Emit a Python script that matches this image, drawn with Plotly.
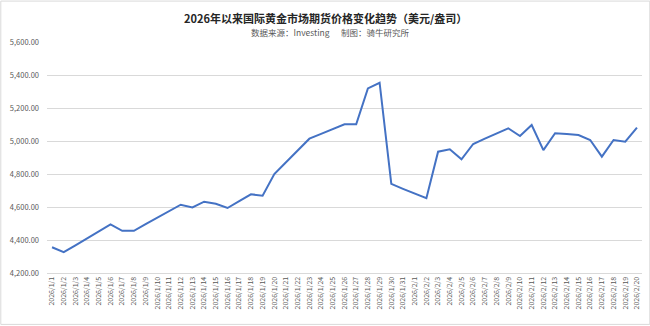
import plotly.graph_objects as go

dates = [f"2026/1/{d}" for d in range(1, 32)] + [f"2026/2/{d}" for d in range(1, 21)]

prices = [
    4356, 4326, 4368, 4410, 4452, 4495, 4456, 4456, 4496, 4535,
    4575, 4614, 4597, 4632, 4620, 4594, 4636, 4677, 4669, 4800,
    4871, 4943, 5014, 5043, 5072, 5101, 5101, 5319, 5353, 4740,
    4710, 4681, 4653, 4935, 4950, 4889, 4982, 5014, 5046, 5077,
    5030, 5097, 4945, 5047, 5043, 5036, 5006, 4905, 5006, 4996,
    5081,
]

y_ticks = [4200, 4400, 4600, 4800, 5000, 5200, 5400, 5600]
y_labels = [f"{v:,.2f}" for v in y_ticks]

title_text = "2026年以来国际黄金市场期货价格变化趋势（美元/盎司）"
subtitle_text = "数据来源：Investing" + "\u00a0" * 6 + "制图：骑牛研究所"

FONT = "Noto Sans CJK SC, Noto Sans, sans-serif"

fig = go.Figure()
fig.add_trace(go.Scatter(
    x=dates, y=prices, mode="lines",
    line=dict(color="#4472C4", width=2),
    hoverinfo="x+y",
))

L, R, T, B = 46.7, 8.3, 41.5, 53
W, H = 650, 326
pw, ph = W - L - R, H - T - B

fig.update_layout(
    width=W, height=H,
    margin=dict(l=L, r=R, t=T, b=B, pad=0),
    paper_bgcolor="white", plot_bgcolor="white",
    showlegend=False,
    font=dict(family=FONT, color="#595959"),
    xaxis=dict(
        type="category", range=[-0.43, 50.43],
        tickangle=-90, tickfont=dict(size=7, color="#595959"),
        showgrid=False, showline=True, linecolor="#d9d9d9", linewidth=1,
        ticks="", ticklen=0, automargin=False,
    ),
    yaxis=dict(
        range=[4200, 5600], tickvals=y_ticks, ticktext=y_labels,
        tickfont=dict(size=7.5, color="#595959"),
        showgrid=True, gridcolor="#d9d9d9", gridwidth=1,
        zeroline=False, showline=False, ticks="", ticklabelstandoff=7,
        automargin=False,
    ),
    annotations=[
        dict(text=f"<b>{title_text}</b>", xref="paper", yref="paper",
             x=(325 - L) / pw, y=(H - B - 17.5) / ph, xanchor="center", yanchor="middle",
             showarrow=False, font=dict(size=11, color="#262626", family=FONT)),
        dict(text=subtitle_text, xref="paper", yref="paper",
             x=(330 - L) / pw, y=(H - B - 31) / ph, xanchor="center", yanchor="middle",
             showarrow=False, font=dict(size=8.5, color="#595959", family=FONT)),
    ],
    shapes=[
        dict(type="rect", xref="paper", yref="paper",
             x0=(0.5 - L) / pw, x1=(W - 0.5 - L) / pw,
             y0=(H - B - (H - 1.5)) / ph, y1=(H - B - 0.5) / ph,
             line=dict(color="#d9d9d9", width=1), fillcolor="rgba(0,0,0,0)", layer="below"),
    ],
)

fig.write_html("out.html")
